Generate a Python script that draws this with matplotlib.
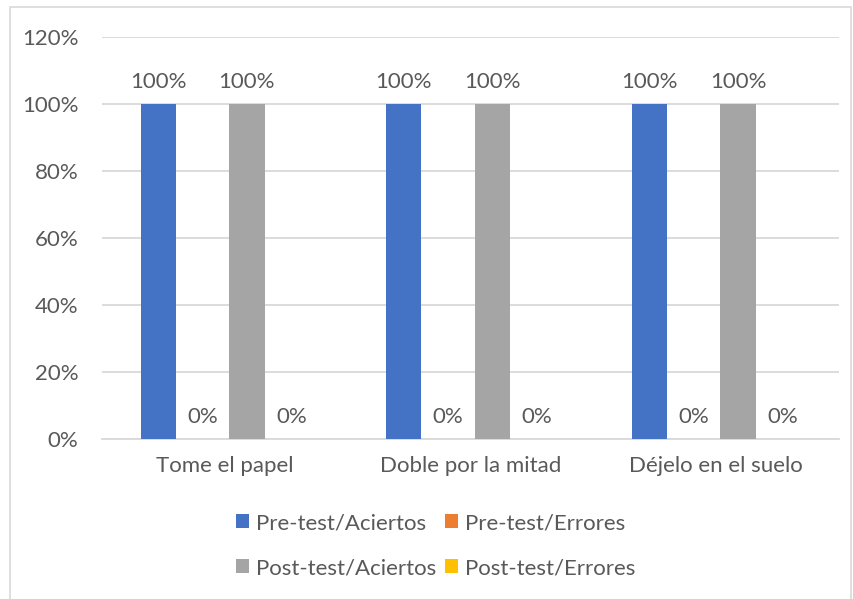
import numpy as np
import matplotlib.pyplot as plt
from matplotlib.patches import Rectangle

# Datos
categorias = ['Tome el papel', 'Doble por la mitad', 'Déjelo en el suelo']
series = ['Pre-test/Aciertos', 'Pre-test/Errores', 'Post-test/Aciertos', 'Post-test/Errores']
pre_aciertos = [100, 100, 100]
pre_errores = [0, 0, 0]
post_aciertos = [100, 100, 100]
post_errores = [0, 0, 0]
colores = ['#4472C4', '#ED7D31', '#A5A5A5', '#FFC000']

plt.rcParams['font.family'] = ['Lato', 'DejaVu Sans']
texto = '#595959'
fs = 16

fig = plt.figure(figsize=(8.54, 5.99), dpi=100)
ax = fig.add_axes([0.1194, 0.2671, 0.8625, 0.6711])

x = np.arange(len(categorias))
ancho = 0.143
paso = 0.181
valores = [pre_aciertos, pre_errores, post_aciertos, post_errores]
barras_todas = []
for i, (nombre, vals, c) in enumerate(zip(series, valores, colores)):
    barras = ax.bar(x + (i - 1.5) * paso, vals, ancho, color=c, label=nombre, zorder=3)
    barras_todas.append(barras)
    ax.bar_label(barras, labels=[f'{v}%' for v in vals], padding=9,
                 fontsize=fs, color=texto)

ax.set_xlim(-0.5, 2.5)
ax.set_ylim(0, 120)
ax.set_yticks(range(0, 121, 20))
ax.set_yticklabels([f'{v}%' for v in range(0, 121, 20)])
ax.set_xticks(x)
ax.set_xticklabels(categorias)
ax.tick_params(axis='both', length=0, labelsize=fs, labelcolor=texto)
ax.tick_params(axis='y', pad=17)
ax.tick_params(axis='x', pad=12)
ax.grid(axis='y', color='#D9D9D9', linewidth=1.3, zorder=0)
for s in ['top', 'right', 'left']:
    ax.spines[s].set_visible(False)
ax.spines['bottom'].set_color('#D9D9D9')
ax.spines['bottom'].set_linewidth(1.3)

# leyenda por filas
orden = [0, 2, 1, 3]
fig.legend([barras_todas[i] for i in orden], [series[i] for i in orden],
           loc='center', bbox_to_anchor=(0.51, 0.089), ncol=2, frameon=False,
           fontsize=fs, labelcolor=texto, handlelength=0.6, handleheight=0.6,
           handletextpad=0.3, columnspacing=0.4, labelspacing=1.13)

# borde del gráfico
fig.patches.append(Rectangle((10 / 854, -0.01), 841 / 854, 1 - 7 / 599 + 0.01,
                             transform=fig.transFigure, fill=False,
                             edgecolor='#D9D9D9', linewidth=1.2))

plt.savefig('out.png', dpi=100)
